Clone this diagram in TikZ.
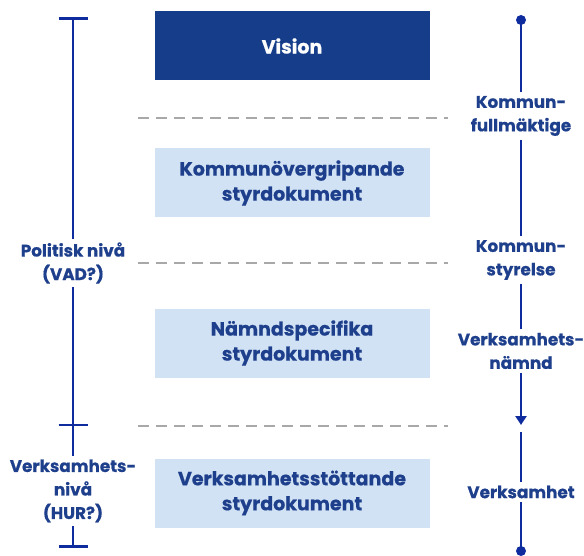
\documentclass[tikz,border=0pt]{standalone}
\usepackage{fontspec}
\setmainfont{Poppins}[BoldFeatures={FakeBold=0.6}]
\usetikzlibrary{arrows.meta}
\definecolor{navy}{HTML}{1E3F8B}
\definecolor{barblue}{HTML}{0F2C9E}
\definecolor{darkbox}{HTML}{153D8A}
\definecolor{lightbox}{HTML}{D1E2F5}
\definecolor{dashgray}{HTML}{A8A8A8}
\tikzset{
  levelbox/.style={minimum width=275pt, minimum height=69pt, inner sep=0pt, align=center,
    font=\fontsize{19}{25}\selectfont\bfseries, text=navy, fill=lightbox},
  visionbox/.style={levelbox, fill=darkbox, text=white},
  sidetext/.style={align=center, inner sep=3.5pt, font=\fontsize{16.8}{23.5}\selectfont\bfseries, text=navy},
  bar/.style={draw=barblue, line width=2.6pt},
  divider/.style={draw=dashgray, line width=2.4pt, dash pattern=on 11pt off 7pt}
}
\begin{document}
\begin{tikzpicture}[x=1pt,y=1pt]
        \useasboundingbox (0,0) rectangle (584,-556);
        % boxes
        \node[visionbox] (vision) at (292,-46) {Vision};
        \node[levelbox] (overgr) at (292,-183) {Kommunövergripande\\styrdokument};
        \node[levelbox] (namnd) at (292,-343) {Nämndspecifika\\styrdokument};
        \node[levelbox] (stott) at (292,-493) {Verksamhetsstöttande\\styrdokument};
        %
        \draw[divider] (138,-118) -- (448,-118);
        \draw[divider] (138,-263) -- (448,-263);
        \draw[divider] (138,-426) -- (448,-426);
        % left: levels
        \coordinate (ltop) at (73,-17);
        \coordinate (lcross) at (73,-425);
        \coordinate (lbot) at (73,-548);
        \node[sidetext] (polniva) at (73,-263) {Politisk nivå\\(VAD?)};
        \node[sidetext] (vhniva) at (73,-491) {Verksamhets-\\nivå\\(HUR?)};
        \draw[bar, {Bar[width=29pt]}-] (ltop) -- (polniva);
        \draw[bar] (polniva) -- (vhniva);
        \draw[bar] ([xshift=-14.5pt]lcross) -- ([xshift=14.5pt]lcross);
        \draw[bar, -{Bar[width=29pt]}] (vhniva) -- (lbot);
        % right: organisation
        \coordinate (rtop) at (521,-20);
        \coordinate (rmid) at (521,-428);
        \coordinate (rbot) at (521,-551);
        \node[sidetext] (kf) at (521,-116) {Kommun-\\fullmäktige};
        \node[sidetext] (ks) at (521,-260) {Kommun-\\styrelse};
        \node[sidetext] (vn) at (521,-351) {Verksamhets-\\nämnd};
        \node[sidetext] (vh) at (521,-492) {Verksamhet};
        \fill[barblue] (rtop) circle (5pt);
        \fill[barblue] (rbot) circle (5pt);
        \draw[bar] (rtop) -- (kf);
        \draw[bar] (kf) -- (ks);
        \draw[bar] (ks) -- (vn);
        \draw[bar, -{Triangle[width=11pt,length=9pt]}] (vn) -- ([yshift=3pt]rmid);
        \draw[bar] ([yshift=-4pt]rmid) -- (vh);
        \draw[bar] (vh) -- (rbot);
\end{tikzpicture}
\end{document}
